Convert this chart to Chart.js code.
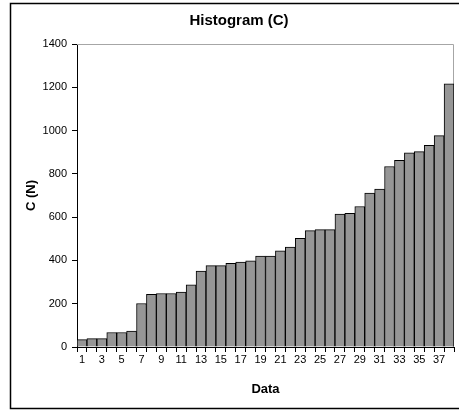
<!DOCTYPE html>
<html>
<head>
<meta charset="utf-8">
<script src="https://cdn.jsdelivr.net/npm/chart.js@4.4.0/dist/chart.umd.min.js"></script>
<style>
  html, body { margin: 0; padding: 0; background: #fff; }
  #wrap { width: 459px; height: 410px; }
</style>
</head>
<body>
<div id="wrap"><canvas id="histChart" width="459" height="410"></canvas></div>
<script>
// data
const labels = [];
for (let i = 1; i <= 38; i++) labels.push(String(i));
const values = [34, 39, 39, 67, 67, 74, 201, 243, 247, 247,
                254, 287, 351, 376, 376, 387, 392, 398, 420, 420,
                444, 462, 502, 538, 542, 542, 614, 618, 649, 711,
                730, 834, 862, 897, 903, 932, 977, 1216];
const chartTitle = 'Histogram (C)';
const xTitle = 'Data';
const yTitle = 'C (N)';
const yTicks = { min: 0, max: 1400, step: 200 };

const FONT = "'Liberation Sans', Arial, sans-serif";

// outer frame + grey top/right edge of plot area
const framePlugin = {
  id: 'frame',
  beforeDatasetsDraw(chart) {
    const ctx = chart.ctx, a = chart.chartArea;
    ctx.save();
    ctx.strokeStyle = '#a6a6a6';
    ctx.lineWidth = 1;
    ctx.beginPath();
    ctx.moveTo(a.left, a.top + 0.5);
    ctx.lineTo(a.right - 0.5, a.top + 0.5);
    ctx.lineTo(a.right - 0.5, a.bottom);
    ctx.stroke();
    ctx.restore();
  },
  afterDraw(chart) {
    const ctx = chart.ctx;
    ctx.save();
    ctx.strokeStyle = '#000';
    ctx.lineWidth = 1.5;
    ctx.strokeRect(10.5, 3.5, 470, 405);
    ctx.restore();
  }
};

new Chart(document.getElementById('histChart'), {
  type: 'bar',
  data: {
    labels: labels,
    datasets: [{
      data: values,
      backgroundColor: '#969696',
      borderColor: '#000',
      borderWidth: 1,
      barPercentage: 1,
      categoryPercentage: 1
    }]
  },
  options: {
    responsive: false,
    animation: false,
    layout: { padding: { top: 4, left: 24, right: 5, bottom: 10 } },
    plugins: {
      legend: { display: false },
      tooltip: { enabled: false },
      title: {
        display: true,
        text: chartTitle,
        color: '#000',
        font: { family: FONT, size: 15, weight: 'bold' },
        padding: { top: 8, bottom: 14 }
      }
    },
    scales: {
      x: {
        offset: true,
        grid: { offset: true, drawOnChartArea: false, drawTicks: true, tickLength: 5, color: '#000' },
        border: { color: '#000', width: 1 },
        ticks: {
          autoSkip: false, maxRotation: 0, minRotation: 0, padding: 1,
          color: '#000',
          font: { family: FONT, size: 11 },
          callback: (v, i) => i % 2 === 0 ? labels[i] : ''
        },
        title: {
          display: true, text: xTitle, color: '#000',
          font: { family: FONT, size: 13, weight: 'bold' },
          padding: { top: 0, bottom: 3 }
        },
        afterFit: s => { s.height = 53; }
      },
      y: {
        min: yTicks.min, max: yTicks.max,
        grid: { drawOnChartArea: false, drawTicks: true, tickLength: 5, color: '#000' },
        border: { color: '#000', width: 1 },
        ticks: {
          stepSize: yTicks.step, padding: 5, color: '#000',
          font: { family: FONT, size: 11 },
          callback: v => String(v)
        },
        title: {
          display: true, text: yTitle, color: '#000',
          font: { family: FONT, size: 13, weight: 'bold' },
          padding: { top: 0, bottom: 0 }
        },
        afterFit: s => { s.width = 53; }
      }
    }
  },
  plugins: [framePlugin]
});
</script>
</body>
</html>
